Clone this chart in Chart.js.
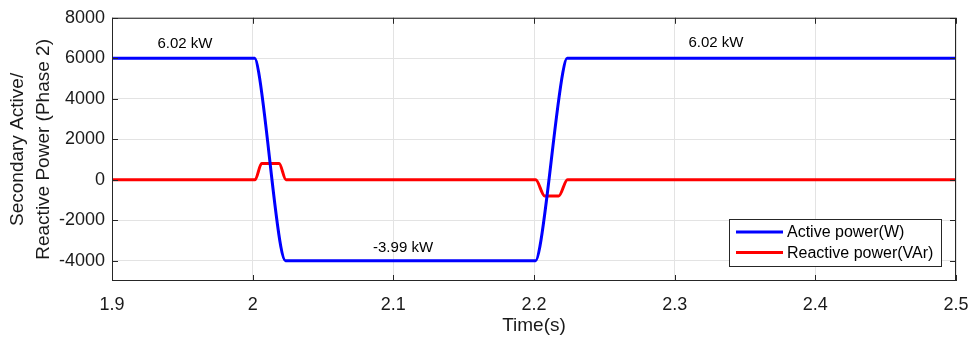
<!DOCTYPE html>
<html>
<head>
<meta charset="utf-8">
<script src="https://cdn.jsdelivr.net/npm/chart.js@4"></script>
<style>
    body { margin: 0; background: #ffffff; }
    #wrap { width: 974px; height: 341px; }
</style>
</head>
<body>
<div id="wrap"><canvas id="myChart" width="974" height="341"></canvas></div>
<script>
// values

const activeTime = [1.9, 2.0015, 2.0043, 2.0200, 2.0233, 2.2012, 2.2042, 2.2205, 2.2235, 2.5];
const activePower = [6000, 6000, 5300, -3300, -4000, -4000, -3300, 5300, 6000, 6000];

const reactiveTime = [1.9, 2.0017, 2.0064, 2.0188, 2.0237, 2.2012, 2.2076, 2.2176, 2.2238, 2.5];
const reactivePower = [0, 0, 800, 800, 0, 0, -800, -800, 0, 0];

const xTicks = [1.9, 2.0, 2.1, 2.2, 2.3, 2.4, 2.5];
const yTicks = [-4000, -2000, 0, 2000, 4000, 6000, 8000];

const seriesNames = ["Active power(W)", "Reactive power(VAr)"];
const seriesColors = ["#0000ff", "#ff0000"];

// text notes on the curves: [text, x, y]
const notes = [
    ["6.02 kW", 1.9519, 6700],
    ["6.02 kW", 2.3294, 6780],
    ["-3.99 kW", 2.1069, -3350]
];

const fontName = "'Liberation Sans', Arial, sans-serif";

function toPoints(xs, ys) {
    let pts = [];
    for (let i = 0; i < xs.length; i++) {
        pts.push({ x: xs[i], y: ys[i] });
    }
    return pts;
}

// box round the plot, inward ticks, notes and legend (matlab look)
const matlabFrame = {
    id: "matlabFrame",
    afterDraw(chart) {
        const c = chart.ctx;
        const a = chart.chartArea;
        const xs = chart.scales.x;
        const ys = chart.scales.y;

        c.save();
        c.strokeStyle = "#262626";
        c.lineWidth = 1;
        c.strokeRect(a.left + 0.5, a.top + 0.5, a.right - a.left - 1, a.bottom - a.top - 1);

        c.beginPath();
        xTicks.forEach(v => {
            let px = Math.round(xs.getPixelForValue(v)) + 0.5;
            c.moveTo(px, a.bottom);
            c.lineTo(px, a.bottom - 6);
            c.moveTo(px, a.top);
            c.lineTo(px, a.top + 6);
        });
        yTicks.forEach(v => {
            let py = Math.round(ys.getPixelForValue(v)) + 0.5;
            c.moveTo(a.left, py);
            c.lineTo(a.left + 6, py);
            c.moveTo(a.right, py);
            c.lineTo(a.right - 6, py);
        });
        c.stroke();

        // notes
        c.fillStyle = "#000000";
        c.font = "15px " + fontName;
        c.textAlign = "center";
        c.textBaseline = "middle";
        notes.forEach(n => {
            c.fillText(n[0], xs.getPixelForValue(n[1]), ys.getPixelForValue(n[2]));
        });

        // legend
        const lx = 729, ly = 219, lw = 212, lh = 47;
        c.fillStyle = "#ffffff";
        c.fillRect(lx, ly, lw, lh);
        c.strokeStyle = "#262626";
        c.strokeRect(lx + 0.5, ly + 0.5, lw, lh);
        c.font = "16px " + fontName;
        c.textAlign = "left";
        for (let i = 0; i < seriesNames.length; i++) {
            let y = ly + 13 + i * 20.5;
            c.strokeStyle = seriesColors[i];
            c.lineWidth = 3;
            c.beginPath();
            c.moveTo(lx + 7, y);
            c.lineTo(lx + 54, y);
            c.stroke();
            c.fillStyle = "#000000";
            c.fillText(seriesNames[i], lx + 58, y + 1);
        }
        c.restore();
    }
};

var ctx = document.getElementById("myChart").getContext("2d");

var myChart = new Chart(ctx, {
    type: "line",
    data: {
        datasets: [
            {
                label: seriesNames[0],
                data: toPoints(activeTime, activePower),
                borderColor: seriesColors[0],
                borderWidth: 3,
                pointRadius: 0,
                cubicInterpolationMode: "monotone",
                fill: false
            },
            {
                label: seriesNames[1],
                data: toPoints(reactiveTime, reactivePower),
                borderColor: seriesColors[1],
                borderWidth: 3,
                pointRadius: 0,
                cubicInterpolationMode: "monotone",
                fill: false
            }
        ]
    },
    options: {
        responsive: false,
        animation: false,
        layout: {
            padding: { left: 0, right: 18, top: 14, bottom: 0 }
        },
        plugins: {
            legend: { display: false },
            tooltip: { enabled: false }
        },
        scales: {
            x: {
                type: "linear",
                min: 1.9,
                max: 2.5,
                afterBuildTicks: scale => {
                    scale.ticks = xTicks.map(v => ({ value: v }));
                },
                afterFit: scale => {
                    scale.height = 60;
                    scale.paddingLeft = 0;
                    scale.paddingRight = 0;
                },
                ticks: {
                    color: "#1a1a1a",
                    font: { family: fontName, size: 18 },
                    padding: 13,
                    maxRotation: 0,
                    callback: value => String(Number(value.toFixed(1)))
                },
                grid: { color: "#e3e3e3", drawTicks: false },
                border: { display: false },
                title: {
                    display: true,
                    text: "Time(s)",
                    color: "#1a1a1a",
                    font: { family: fontName, size: 19 },
                    padding: { top: 0, bottom: 4 }
                }
            },
            y: {
                min: -5000,
                max: 8000,
                afterBuildTicks: scale => {
                    scale.ticks = yTicks.map(v => ({ value: v }));
                },
                afterFit: scale => {
                    scale.width = 112;
                },
                ticks: {
                    color: "#1a1a1a",
                    font: { family: fontName, size: 18 },
                    padding: 7,
                    callback: value => String(value)
                },
                grid: { color: "#e3e3e3", drawTicks: false },
                border: { display: false },
                title: {
                    display: true,
                    text: ["Secondary Active/", "Reactive Power (Phase 2)"],
                    color: "#1a1a1a",
                    font: { family: fontName, size: 19, lineHeight: 1.35 },
                    padding: { top: 5, bottom: 0 }
                }
            }
        }
    },
    plugins: [matlabFrame]
});
</script>
</body>
</html>
